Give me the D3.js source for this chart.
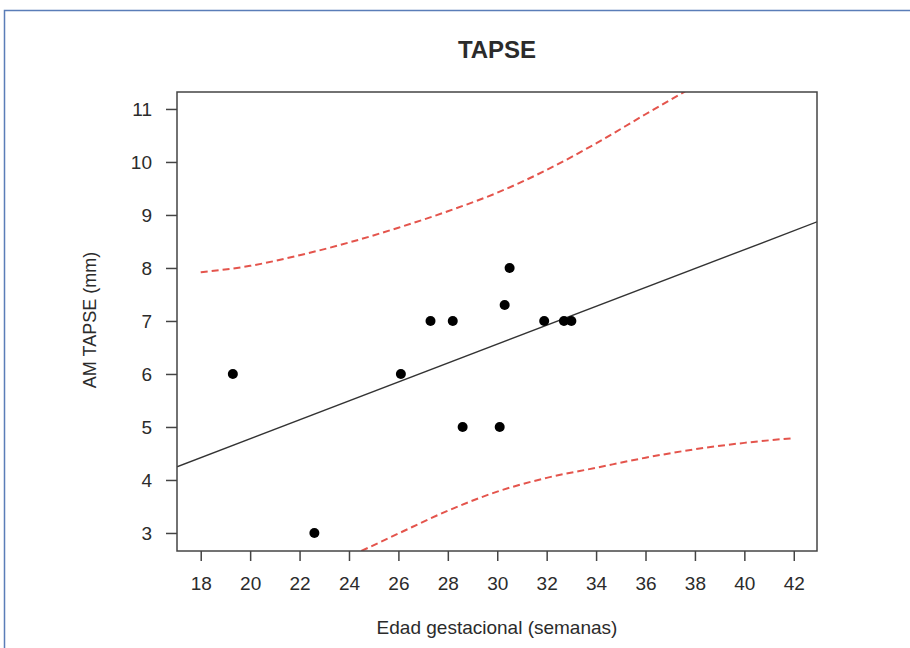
<!DOCTYPE html>
<html>
<head>
<meta charset="utf-8">
<script src="https://cdn.jsdelivr.net/npm/d3@7"></script>
<style>
  body { margin: 0; background: #fff; }
  text { font-family: "Liberation Sans", Arial, sans-serif; fill: #2b2b2b; }
</style>
</head>
<body>
<div id="chart"></div>
<script>
// data
const gestAge = [19.3, 22.6, 26.1, 27.3, 28.2, 28.6, 30.1, 30.3, 30.5, 31.9, 32.7, 33.0];
const tapse   = [6, 3, 6, 7, 7, 5, 5, 7.3, 8, 7, 7, 7];

// fitted line (ends at the plot box)
const fitX = [17.04, 42.94];
const fitY = [4.25, 8.87];

// prediction band (red dashed)
const upperX = [18, 20, 22, 24, 26, 28, 30, 32, 34, 36, 37.6];
const upperY = [7.92, 8.04, 8.24, 8.48, 8.76, 9.07, 9.42, 9.85, 10.35, 10.9, 11.33];
const lowerX = [24.5, 26, 28, 30, 32, 34, 36, 38, 40, 42];
const lowerY = [2.66, 2.99, 3.42, 3.78, 4.04, 4.23, 4.42, 4.58, 4.70, 4.79];

const xTicks = d3.range(18, 43, 2);
const yTicks = [3, 4, 5, 6, 7, 8, 9, 10, 11];

const config = {
  width: 910, height: 648,
  left: 177, top: 92, right: 817, bottom: 551
};

const svg = d3.select("#chart").append("svg")
  .attr("width", config.width)
  .attr("height", config.height);

// outer frame (blue, runs off the page on right/bottom)
svg.append("rect")
  .attr("x", 4.5).attr("y", 10.5)
  .attr("width", 1000).attr("height", 1000)
  .attr("fill", "none")
  .attr("stroke", "#5a7db8")
  .attr("stroke-width", 1.5);

const x = d3.scaleLinear().domain([17.04, 42.94]).range([config.left, config.right]);
const y = d3.scaleLinear().domain([2.66, 11.32]).range([config.bottom, config.top]);

svg.append("defs").append("clipPath").attr("id", "plotclip")
  .append("rect")
  .attr("x", config.left).attr("y", config.top)
  .attr("width", config.right - config.left)
  .attr("height", config.bottom - config.top);

// axes
const xAxis = svg.append("g")
  .attr("transform", `translate(0,${config.bottom})`)
  .call(d3.axisBottom(x).tickValues(xTicks).tickSize(10).tickPadding(16));
const yAxis = svg.append("g")
  .attr("transform", `translate(${config.left},0)`)
  .call(d3.axisLeft(y).tickValues(yTicks).tickSize(11).tickPadding(14));

[xAxis, yAxis].forEach(function (g) {
  g.select(".domain").remove();
  g.selectAll(".tick line").attr("stroke", "#444").attr("stroke-width", 1.5);
  g.selectAll(".tick text").style("font-size", "19px").attr("fill", "#2b2b2b");
});

const plot = svg.append("g").attr("clip-path", "url(#plotclip)");

// regression line
plot.append("line")
  .attr("x1", x(fitX[0])).attr("y1", y(fitY[0]))
  .attr("x2", x(fitX[1])).attr("y2", y(fitY[1]))
  .attr("stroke", "#333")
  .attr("stroke-width", 1.4);

const band = d3.line()
  .x(function (d) { return x(d[0]); })
  .y(function (d) { return y(d[1]); })
  .curve(d3.curveMonotoneX);

[[upperX, upperY], [lowerX, lowerY]].forEach(function (s) {
  plot.append("path")
    .datum(d3.zip(s[0], s[1]))
    .attr("d", band)
    .attr("fill", "none")
    .attr("stroke", "#e4544c")
    .attr("stroke-width", 2)
    .attr("stroke-dasharray", "7,4");
});

// points
plot.selectAll("circle.pt")
  .data(d3.zip(gestAge, tapse))
  .enter()
  .append("circle")
  .attr("class", "pt")
  .attr("cx", function (d) { return x(d[0]); })
  .attr("cy", function (d) { return y(d[1]); })
  .attr("r", 5)
  .attr("fill", "#000");

// plot box
svg.append("rect")
  .attr("x", config.left).attr("y", config.top)
  .attr("width", config.right - config.left)
  .attr("height", config.bottom - config.top)
  .attr("fill", "none")
  .attr("stroke", "#444")
  .attr("stroke-width", 1.5);

// titles
svg.append("text")
  .attr("x", 497).attr("y", 58)
  .attr("text-anchor", "middle")
  .style("font-size", "24px")
  .style("font-weight", "bold")
  .attr("fill", "#111")
  .text("TAPSE");

svg.append("text")
  .attr("x", 497).attr("y", 634)
  .attr("text-anchor", "middle")
  .style("font-size", "19px")
  .text("Edad gestacional (semanas)");

svg.append("text")
  .attr("transform", "translate(96,320) rotate(-90)")
  .attr("text-anchor", "middle")
  .style("font-size", "18px")
  .text("AM TAPSE (mm)");
</script>
</body>
</html>
